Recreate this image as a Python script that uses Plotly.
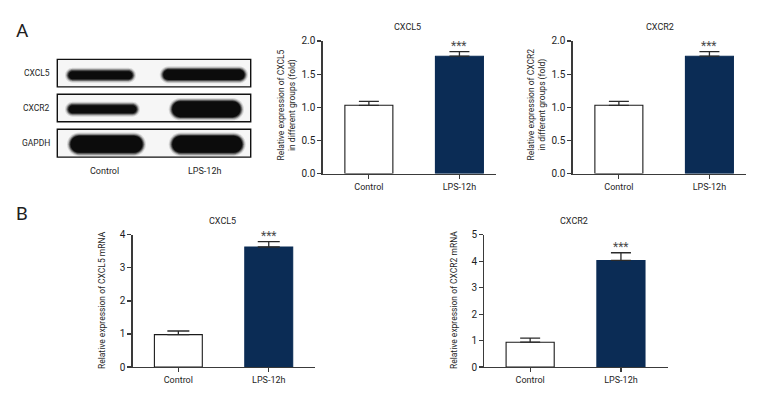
import plotly.graph_objects as go

# ---------------- data ----------------
categories = ["Control", "LPS-12h"]

a_cxcl5_mean = [1.03, 1.77]
a_cxcl5_err = [0.06, 0.07]
a_cxcr2_mean = [1.03, 1.77]
a_cxcr2_err = [0.06, 0.07]

b_cxcl5_mean = [0.98, 3.63]
b_cxcl5_err = [0.11, 0.16]
b_cxcr2_mean = [0.94, 4.03]
b_cxcr2_err = [0.15, 0.29]

a_ticks = [0.0, 0.5, 1.0, 1.5, 2.0]
b1_ticks = [0, 1, 2, 3, 4]
b2_ticks = [0, 1, 2, 3, 4, 5]

blot_proteins = ["CXCL5", "CXCR2", "GAPDH"]
significance = "***"

# ---------------- style / layout ----------------
W, H = 780, 408
FONT = "Roboto, Liberation Sans Narrow, DejaVu Sans Condensed, sans-serif"
TXT = "#1e1e1e"
AX = "#3a3a3a"
NAVY = "#0b2c55"


def px(x):
    return x / W


def py(y):
    return 1 - y / H


panels = [
    dict(title="CXCL5", ytitle="Relative expression of CXCL5<br>in different groups (fold)",
         means=a_cxcl5_mean, errs=a_cxcl5_err, ticks=a_ticks, fmt="{:.1f}",
         xd=(322.7, 496.0), yd=(36.0, 172.7), xr=(-0.51, 1.404),
         tx=286.5, ty=102, hx=407, hy=22, cap=10),
    dict(title="CXCR2", ytitle="Relative expression of CXCR2<br>in different groups (fold)",
         means=a_cxcr2_mean, errs=a_cxcr2_err, ticks=a_ticks, fmt="{:.1f}",
         xd=(572.7, 746.0), yd=(36.0, 172.7), xr=(-0.51, 1.404),
         tx=536.5, ty=102, hx=660, hy=22, cap=10),
    dict(title="CXCL5", ytitle="Relative expression of CXCL5 mRNA",
         means=b_cxcl5_mean, errs=b_cxcl5_err, ticks=b1_ticks, fmt="{:d}",
         xd=(132.7, 315.3), yd=(235.7, 372.0), xr=(-0.505, 1.515),
         tx=102, ty=303, hx=222, hy=222, cap=11),
    dict(title="CXCR2", ytitle="Relative expression of CXCR2 mRNA",
         means=b_cxcr2_mean, errs=b_cxcr2_err, ticks=b2_ticks, fmt="{:d}",
         xd=(484.3, 667.7), yd=(235.7, 372.0), xr=(-0.505, 1.515),
         tx=454, ty=303, hx=574, hy=222, cap=10),
]

fig = go.Figure()
annotations = []
shapes = []
layout_axes = {}

for i, p in enumerate(panels, start=1):
    xa = "x" if i == 1 else f"x{i}"
    ya = "y" if i == 1 else f"y{i}"
    fig.add_trace(go.Bar(
        x=categories, y=p["means"], xaxis=xa, yaxis=ya, width=0.53,
        marker=dict(color=["#ffffff", NAVY], line=dict(color=["#1a1a1a", NAVY], width=1.1)),
        error_y=dict(type="data", symmetric=False, array=p["errs"], arrayminus=[0, 0],
                     color="#2a2a2a", thickness=1.3, width=p["cap"]),
        showlegend=False, hoverinfo="skip",
    ))
    top = max(p["ticks"])
    layout_axes["xaxis" if i == 1 else f"xaxis{i}"] = dict(
        domain=[px(p["xd"][0]), px(p["xd"][1])], range=list(p["xr"]),
        anchor=ya, showline=True, linecolor=AX, linewidth=1.3,
        ticks="outside", ticklen=4, tickcolor=AX, tickwidth=1.2,
        tickfont=dict(family=FONT, size=9, color=TXT),
        showgrid=False, zeroline=False, fixedrange=True,
    )
    layout_axes["yaxis" if i == 1 else f"yaxis{i}"] = dict(
        domain=[py(p["yd"][1]), py(p["yd"][0])], range=[0, top],
        anchor=xa, showline=True, linecolor=AX, linewidth=1.3,
        ticks="outside", ticklen=4, tickcolor=AX, tickwidth=1.2,
        tickvals=p["ticks"], ticktext=[p["fmt"].format(t) for t in p["ticks"]],
        tickfont=dict(family=FONT, size=10, color=TXT),
        showgrid=False, zeroline=False, fixedrange=True,
    )
    annotations.append(dict(
        x=categories[1], y=p["means"][1] + p["errs"][1], xref=xa, yref=ya,
        text=significance, showarrow=False, xanchor="center", yanchor="bottom", yshift=-3,
        font=dict(family=FONT, size=12, color="#4a4a4a"),
    ))
    annotations.append(dict(
        x=px(p["tx"]), y=py(p["ty"]), xref="paper", yref="paper",
        text=p["ytitle"], textangle=-90, showarrow=False,
        xanchor="center", yanchor="middle",
        font=dict(family=FONT, size=8.5, color=TXT),
    ))
    annotations.append(dict(
        x=px(p["hx"]), y=py(p["hy"]), xref="paper", yref="paper",
        text=p["title"], showarrow=False, xanchor="center", yanchor="middle",
        font=dict(family=FONT, size=9, color=TXT),
    ))

annotations.append(dict(x=px(22), y=py(25), xref="paper", yref="paper", text="A",
                        xanchor="center", yanchor="middle",
                        showarrow=False, font=dict(family=FONT, size=19, color=TXT)))
annotations.append(dict(x=px(22), y=py(214), xref="paper", yref="paper", text="B",
                        xanchor="center", yanchor="middle",
                        showarrow=False, font=dict(family=FONT, size=19, color=TXT)))

# ---------------- western blot image (drawn) ----------------
blot_boxes = [(55.0, 83.3), (91.0, 119.3), (127.0, 155.7)]
blot_band_geom = [
    [(68, 133, 66.7, 76.0), (162.7, 245, 65.0, 76.7)],
    [(68, 137, 101.7, 111.0), (171.7, 241, 97.7, 115.0)],
    [(70, 143, 133.3, 151.7), (171.7, 242.7, 133.3, 151.7)],
]
BOX_X = (57.3, 250.7)


def stadium(x0, x1, y0, y1):
    r = (y1 - y0) / 2
    yc = (y0 + y1) / 2
    k = 0.5523 * r
    pts = [
        ("M", [(x0 + r, y0)]),
        ("L", [(x1 - r, y0)]),
        ("C", [(x1 - r + k, y0), (x1, yc - k), (x1, yc)]),
        ("C", [(x1, yc + k), (x1 - r + k, y1), (x1 - r, y1)]),
        ("L", [(x0 + r, y1)]),
        ("C", [(x0 + r - k, y1), (x0, yc + k), (x0, yc)]),
        ("C", [(x0, yc - k), (x0 + r - k, y0), (x0 + r, y0)]),
    ]
    s = ""
    for cmd, ps in pts:
        s += cmd + " " + " ".join(f"{px(a):.5f},{py(b):.5f}" for a, b in ps) + " "
    return s + "Z"


for (y0, y1), label, bands in zip(blot_boxes, blot_proteins, blot_band_geom):
    shapes.append(dict(type="rect", xref="paper", yref="paper",
                       x0=px(BOX_X[0]), x1=px(BOX_X[1]), y0=py(y1), y1=py(y0),
                       fillcolor="#f6f6f6", line=dict(color="#111111", width=1.4), layer="above"))
    for (bx0, bx1, by0, by1) in bands:
        for grow, op in [(3.0, 0.12), (2.0, 0.2), (1.2, 0.32), (0.4, 0.55), (-0.5, 1.0)]:
            shapes.append(dict(type="path", xref="paper", yref="paper",
                               path=stadium(bx0 - grow, bx1 + grow, by0 - grow, by1 + grow),
                               fillcolor="#0c0c0c", opacity=op, line=dict(width=0), layer="above"))
    annotations.append(dict(x=px(52), y=py((y0 + y1) / 2), xref="paper", yref="paper",
                            text=label, showarrow=False, xanchor="right", yanchor="middle",
                            font=dict(family=FONT, size=8.5, color=TXT)))

for lab, cx in zip(categories, [104, 204]):
    annotations.append(dict(x=px(cx), y=py(170), xref="paper", yref="paper", text=lab,
                            showarrow=False, xanchor="center", yanchor="middle",
                            font=dict(family=FONT, size=9, color=TXT)))

fig.update_layout(
    width=W, height=H, margin=dict(l=0, r=0, t=0, b=0),
    paper_bgcolor="white", plot_bgcolor="white",
    font=dict(family=FONT, color=TXT),
    annotations=annotations, shapes=shapes, showlegend=False,
    **layout_axes,
)

fig.write_html("out.html", config={"displayModeBar": False, "staticPlot": True},
               post_script="document.body.style.margin='0';")
